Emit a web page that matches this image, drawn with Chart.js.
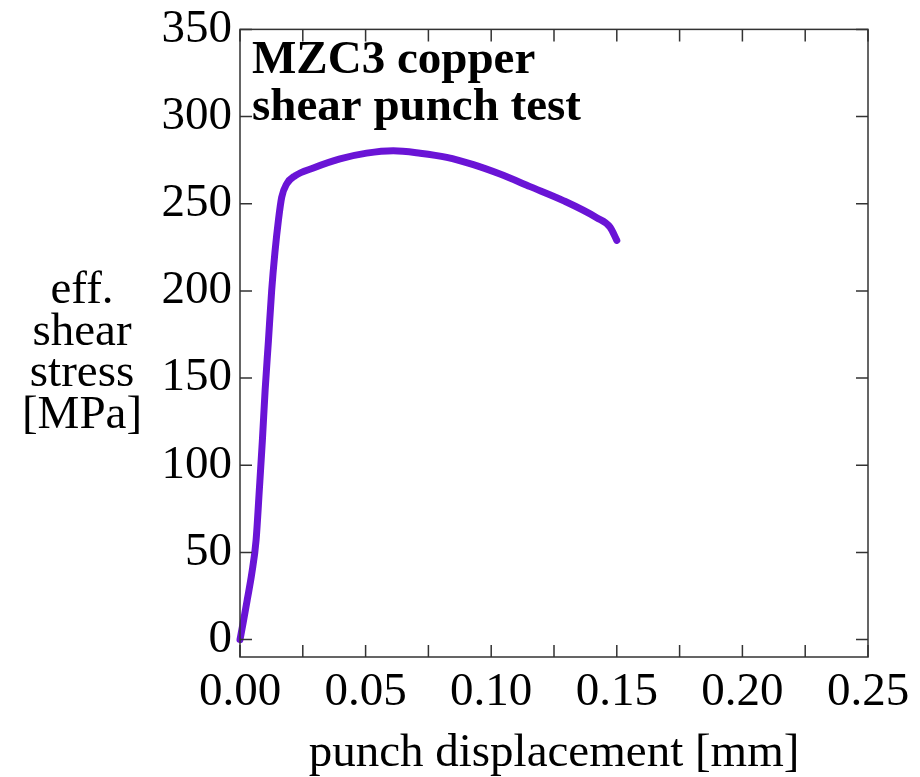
<!DOCTYPE html>
<html>
<head>
<meta charset="utf-8">
<script src="https://cdn.jsdelivr.net/npm/chart.js@4"></script>
<style>
  html, body { margin: 0; padding: 0; background: #fff; }
  #wrap { width: 920px; height: 777px; }
</style>
</head>
<body>
<div id="wrap"><canvas id="shearChart"></canvas></div>
<script>
const displacement = [0, 0.0013, 0.0029, 0.0047, 0.0064, 0.0077, 0.0089, 0.0100, 0.0113, 0.0126, 0.0139, 0.0153,
  0.0166, 0.0186, 0.0219, 0.0292, 0.0398, 0.0504, 0.061, 0.0717, 0.0823, 0.0929, 0.1035, 0.1155, 0.1287, 0.142, 0.1473, 0.150];
const stress = [0, 10, 23, 38, 57, 86, 114, 143, 171, 200, 222, 240.6,
  253.7, 261.4, 266, 270.5, 275.7, 279, 280.4, 279, 276.6, 272.4, 267, 259.8, 251.8, 242, 236.6, 229];

const xTicks = [0, 0.05, 0.10, 0.15, 0.20, 0.25];
const xTickMarks = [0, 0.025, 0.05, 0.075, 0.1, 0.125, 0.15, 0.175, 0.2, 0.225, 0.25];
const yTicks = [0, 50, 100, 150, 200, 250, 300, 350];

const titleLines = ["MZC3 copper", "shear punch test"];
const yTitleLines = ["eff.", "shear", "stress", "[MPa]"];
const xTitle = "punch displacement [mm]";

const serif = "'Liberation Serif', 'DejaVu Serif', serif";
const fs = 47;

/* frame, inward ticks and texts */
const decor = {
  id: "decor",
  afterDraw(chart) {
    const { ctx, chartArea: a, scales: { x, y } } = chart;
    ctx.save();
    ctx.strokeStyle = "#333";
    ctx.lineWidth = 1.5;
    ctx.strokeRect(a.left, a.top, a.right - a.left, a.bottom - a.top);
    ctx.beginPath();
    xTickMarks.forEach(v => {
      const px = x.getPixelForValue(v);
      ctx.moveTo(px, a.bottom); ctx.lineTo(px, a.bottom - 12);
      ctx.moveTo(px, a.top); ctx.lineTo(px, a.top + 12);
    });
    yTicks.forEach(v => {
      const py = y.getPixelForValue(v);
      ctx.moveTo(a.left, py); ctx.lineTo(a.left + 12, py);
      ctx.moveTo(a.right, py); ctx.lineTo(a.right - 12, py);
    });
    ctx.stroke();

    ctx.fillStyle = "#000";
    ctx.textBaseline = "alphabetic";
    ctx.font = "bold " + fs + "px " + serif;
    ctx.textAlign = "left";
    ctx.fillText(titleLines[0], a.left + 12, 73);
    ctx.fillText(titleLines[1], a.left + 12, 120);

    ctx.font = fs + "px " + serif;
    ctx.textAlign = "center";
    yTitleLines.forEach((t, i) => ctx.fillText(t, 82, 303 + i * 41.5));
    ctx.fillText(xTitle, (a.left + a.right) / 2, 766);
    ctx.restore();
  }
};

new Chart(document.getElementById("shearChart"), {
  type: "line",
  data: {
    datasets: [{
      data: displacement.map((d, i) => ({ x: d, y: stress[i] })),
      borderColor: "rgb(106, 20, 214)",
      borderWidth: 7,
      borderCapStyle: "round",
      borderJoinStyle: "round",
      pointRadius: 0,
      cubicInterpolationMode: "monotone",
      clip: 8
    }]
  },
  options: {
    responsive: true,
    maintainAspectRatio: false,
    animation: false,
    layout: { padding: { left: 0, right: 52, top: 20, bottom: 0 } },
    plugins: { legend: { display: false }, tooltip: { enabled: false } },
    scales: {
      x: {
        type: "linear",
        min: 0,
        max: 0.25,
        afterBuildTicks: s => { s.ticks = xTicks.map(v => ({ value: v })); },
        afterFit: s => { s.height = 120; },
        grid: { display: false, drawTicks: false },
        border: { display: false },
        ticks: {
          color: "#000",
          padding: 7,
          maxRotation: 0,
          font: { family: serif, size: fs },
          callback: v => Number(v).toFixed(2)
        }
      },
      y: {
        min: -10,
        max: 350,
        afterBuildTicks: s => { s.ticks = yTicks.map(v => ({ value: v })); },
        afterFit: s => { s.width = 240; },
        grid: { display: false, drawTicks: false },
        border: { display: false },
        ticks: {
          color: "#000",
          padding: 8,
          font: { family: serif, size: fs, lineHeight: 0.91 }
        }
      }
    }
  },
  plugins: [decor]
});
</script>
</body>
</html>
